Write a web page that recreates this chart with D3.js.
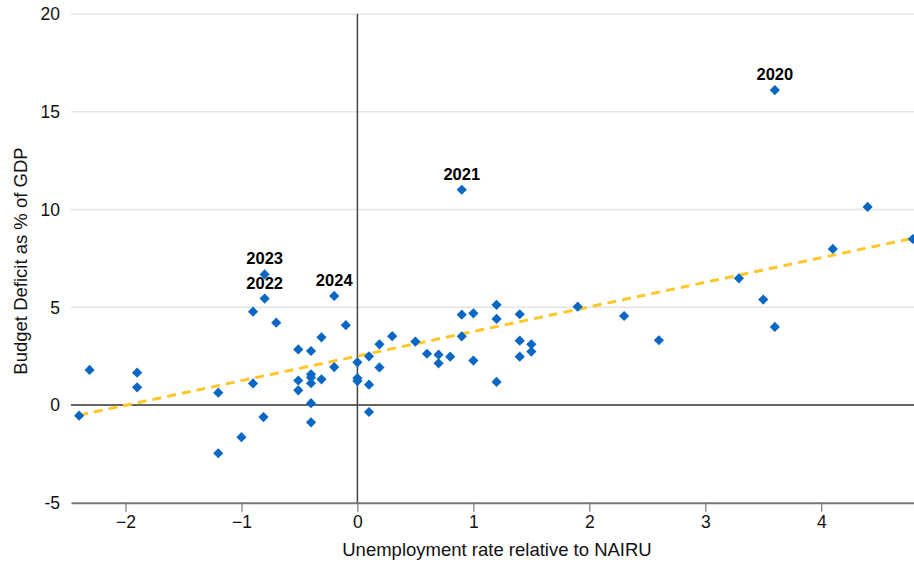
<!DOCTYPE html>
<html>
<head>
<meta charset="utf-8">
<script src="https://cdn.jsdelivr.net/npm/d3@7"></script>
<style>
  html, body { margin: 0; padding: 0; background: #fff; }
  svg { display: block; font-family: "Liberation Sans", Arial, sans-serif; }
</style>
</head>
<body>
<svg id="chart" width="914" height="562"></svg>
<script>
// ---- data ----
const unemploymentGap = [
  -2.40, -2.31, -1.90, -1.90, -1.20, -1.20, -1.00, -0.81, -0.90, -0.90,
  -0.80, -0.80, -0.70, -0.51, -0.51, -0.51, -0.40, -0.40, -0.40, -0.40,
  -0.40, -0.40, -0.31, -0.31, -0.20, -0.20, -0.10, 0.00, 0.00, 0.00,
  0.10, 0.10, 0.10, 0.19, 0.19, 0.30, 0.50, 0.60, 0.70, 0.70,
  0.80, 0.90, 0.90, 0.90, 1.00, 1.00, 1.20, 1.20, 1.20, 1.40,
  1.40, 1.40, 1.50, 1.50, 1.90, 2.30, 2.60, 3.29, 3.50, 3.60,
  3.60, 4.10, 4.40, 4.79
];
const budgetDeficit = [
  -0.55, 1.79, 1.65, 0.90, 0.63, -2.47, -1.65, -0.62, 1.10, 4.77,
  6.68, 5.44, 4.21, 2.84, 1.25, 0.75, 2.76, 1.57, 1.40, 1.11,
  0.09, -0.89, 3.46, 1.31, 5.58, 1.94, 4.08, 2.18, 1.37, 1.22,
  2.49, 1.04, -0.36, 3.10, 1.92, 3.52, 3.24, 2.62, 2.57, 2.13,
  2.47, 11.01, 4.62, 3.51, 4.69, 2.27, 5.12, 4.40, 1.18, 4.64,
  3.29, 2.47, 3.10, 2.73, 5.03, 4.55, 3.31, 6.48, 5.39, 16.11,
  3.99, 7.98, 10.13, 8.49
];
const labelYears = ["2020", "2021", "2022", "2023", "2024"];
const labelX = [3.60, 0.90, -0.80, -0.80, -0.20];
const labelY = [16.11, 11.01, 5.44, 6.68, 5.58];
const trendX = [-2.40, 4.80];
const trendY = [-0.52, 8.54];
const xTicks = [-2, -1, 0, 1, 2, 3, 4];
const yTicks = [-5, 0, 5, 10, 15, 20];
const xTitle = "Unemployment rate relative to NAIRU";
const yTitle = "Budget Deficit as % of GDP";

// ---- chart ----
const svg = d3.select("#chart");
const plotLeft = 71, plotRight = 914, plotTop = 14, plotBottom = 502.7;

const x = d3.scaleLinear().domain([-2.47, 4.80]).range([plotLeft, plotRight]);
const y = d3.scaleLinear().domain([-5, 20]).range([plotBottom, plotTop]);

// gridlines
svg.append("g")
  .selectAll("line")
  .data(yTicks.filter(d => d !== 0 && d !== -5))
  .join("line")
  .attr("x1", plotLeft).attr("x2", plotRight)
  .attr("y1", d => y(d)).attr("y2", d => y(d))
  .attr("stroke", "#e3e3e3").attr("stroke-width", 1.5);

// y tick labels
svg.append("g")
  .selectAll("text")
  .data(yTicks)
  .join("text")
  .attr("x", 60)
  .attr("y", d => y(d))
  .attr("dy", "0.36em")
  .attr("text-anchor", "end")
  .attr("font-size", 17.5)
  .attr("fill", "#111")
  .text(d => d);

// x axis at -5
const xAxis = d3.axisBottom(x).tickValues(xTicks).tickSize(9).tickSizeOuter(0)
  .tickPadding(4).tickFormat(d3.format("d"));
const gx = svg.append("g").attr("transform", `translate(0,${y(-5)})`).call(xAxis);
gx.select(".domain").attr("stroke", "#777").attr("stroke-width", 2);
gx.selectAll(".tick line").attr("stroke", "#777").attr("stroke-width", 1.2);
gx.selectAll(".tick text").attr("font-size", 17.5).attr("fill", "#111")
  .attr("font-family", "Liberation Sans, Arial, sans-serif");

// zero lines
svg.append("line")
  .attr("x1", plotLeft).attr("x2", plotRight)
  .attr("y1", y(0)).attr("y2", y(0))
  .attr("stroke", "#333").attr("stroke-width", 1.5);
svg.append("line")
  .attr("x1", x(0)).attr("x2", x(0))
  .attr("y1", y(20)).attr("y2", y(-5))
  .attr("stroke", "#444").attr("stroke-width", 1.5);

// trend line
svg.append("line")
  .attr("x1", x(trendX[0])).attr("y1", y(trendY[0]))
  .attr("x2", x(trendX[1])).attr("y2", y(trendY[1]))
  .attr("stroke", "#FFC729").attr("stroke-width", 3)
  .attr("stroke-dasharray", "9,6");

// points
const pts = unemploymentGap.map((v, i) => ({ x: v, y: budgetDeficit[i] }));
const sym = d3.symbol().type(d3.symbolSquare).size(52);
svg.append("g")
  .selectAll("path")
  .data(pts)
  .join("path")
  .attr("d", sym)
  .attr("transform", d => `translate(${x(d.x)},${y(d.y)}) rotate(45)`)
  .attr("fill", "#0A68C4");

// year labels
svg.append("g")
  .selectAll("text")
  .data(labelYears.map((t, i) => ({ t, x: labelX[i], y: labelY[i] })))
  .join("text")
  .attr("x", d => x(d.x))
  .attr("y", d => y(d.y) - 10)
  .attr("text-anchor", "middle")
  .attr("font-size", 16.5)
  .attr("font-weight", "bold")
  .attr("fill", "#000")
  .text(d => d.t);

// axis titles
svg.append("text")
  .attr("x", 497).attr("y", 556)
  .attr("text-anchor", "middle")
  .attr("font-size", 18.5).attr("fill", "#111")
  .text(xTitle);
svg.append("text")
  .attr("transform", `translate(27,261) rotate(-90)`)
  .attr("text-anchor", "middle")
  .attr("font-size", 18.5).attr("fill", "#111")
  .text(yTitle);
</script>
</body>
</html>
